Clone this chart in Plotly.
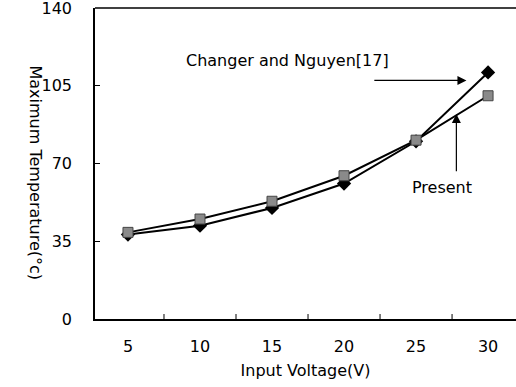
import plotly.graph_objects as go

voltage = [5, 10, 15, 20, 25, 30]
changer_nguyen = [38, 42, 50, 61, 80, 111]
present = [39, 45, 53, 64.5, 80.5, 100.5]
y_ticks = [0, 35, 70, 105, 140]
x_ticks = [5, 10, 15, 20, 25, 30]

FONT = "DejaVu Sans"
FS = 16

fig = go.Figure()
fig.add_trace(go.Scatter(
    x=voltage, y=changer_nguyen, mode="lines+markers",
    line=dict(color="black", width=2),
    marker=dict(symbol="diamond", size=11, color="black"),
    name="Changer and Nguyen[17]", showlegend=False))
fig.add_trace(go.Scatter(
    x=voltage, y=present, mode="lines+markers",
    line=dict(color="black", width=2),
    marker=dict(symbol="square", size=10, color="#8a8a8a",
                line=dict(color="#444444", width=1)),
    name="Present", showlegend=False))

# inner tick marks between categories
for xv in [7.5, 12.5, 17.5, 22.5, 27.5]:
    fig.add_shape(type="line", xref="x", yref="paper", x0=xv, x1=xv, y0=0, y1=0.016,
                  line=dict(color="black", width=1))
# top frame line (no right border)
fig.add_shape(type="line", xref="paper", yref="paper", x0=0, x1=1, y0=1, y1=1,
              line=dict(color="black", width=1.5))

fig.add_annotation(x=16.1, y=116.5, text="Changer and Nguyen[17]", showarrow=False,
                   font=dict(family=FONT, size=FS, color="black"))
fig.add_annotation(x=28.5, y=107.4, ax=22.0, ay=107.4, axref="x", ayref="y",
                   xref="x", yref="y", text="", showarrow=True,
                   arrowhead=2, arrowsize=1.5, arrowwidth=1.2, arrowcolor="black")
fig.add_annotation(x=26.8, y=59, text="Present", showarrow=False,
                   font=dict(family=FONT, size=FS, color="black"))
fig.add_annotation(x=27.8, y=92.3, ax=27.8, ay=65.8, axref="x", ayref="y",
                   xref="x", yref="y", text="", showarrow=True,
                   arrowhead=2, arrowsize=1.5, arrowwidth=1.2, arrowcolor="black")

fig.add_annotation(xref="paper", yref="paper", x=-0.169, y=0.47,
                   text="Maximum Temperature(°c)", textangle=90, showarrow=False,
                   font=dict(family=FONT, size=FS, color="black"))

fig.update_xaxes(range=[2.71, 31.94], tickvals=x_ticks, ticktext=[str(v) for v in x_ticks],
                 showline=True, linecolor="black", linewidth=1.5,
                 ticks="", showgrid=False, zeroline=False, ticklabelstandoff=12,
                 title=dict(text="Input Voltage(V)", standoff=10,
                            font=dict(family=FONT, size=FS, color="black")),
                 tickfont=dict(family=FONT, size=FS, color="black"))
fig.update_yaxes(range=[0, 140], tickvals=y_ticks, ticktext=[str(v) for v in y_ticks],
                 showline=True, linecolor="black", linewidth=1.5,
                 ticks="inside", ticklen=5, tickcolor="black",
                 showgrid=False, zeroline=False, ticklabelstandoff=18,
                 ticklabeloverflow="allow",
                 tickfont=dict(family=FONT, size=FS, color="black"))

fig.update_layout(width=516, height=387, margin=dict(l=95, r=0, t=8, b=68),
                  plot_bgcolor="white", paper_bgcolor="white",
                  font=dict(family=FONT, color="black"))

fig.write_html("out.html")
